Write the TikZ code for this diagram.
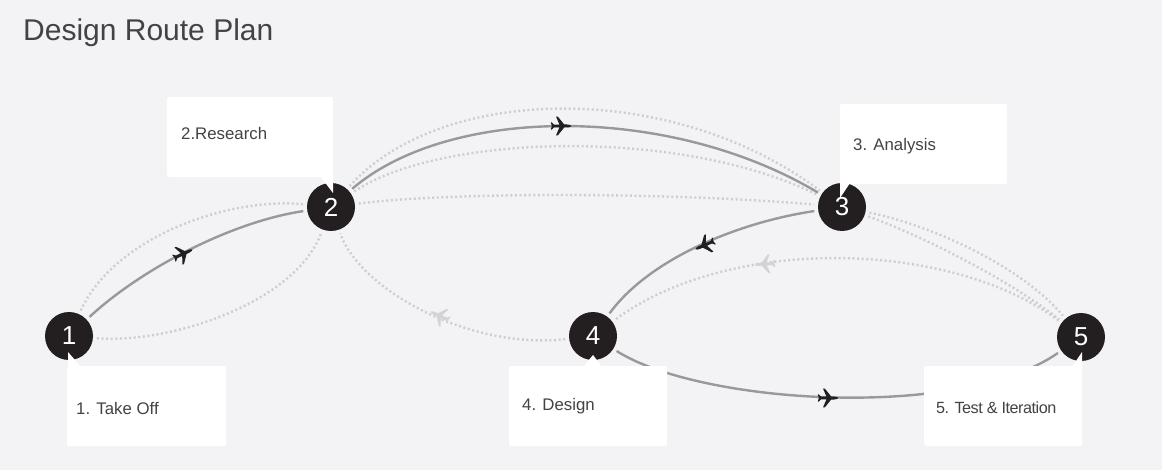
\documentclass[tikz,border=0pt]{standalone}
\usepackage{fontspec}
\usepackage{xcolor}
\setmainfont{Liberation Sans}
\usetikzlibrary{positioning,calc}
\definecolor{bggray}{HTML}{F3F3F5}
\definecolor{stopblack}{HTML}{231F20}
\definecolor{routegray}{HTML}{98999B}
\definecolor{dotgray}{HTML}{CDCED0}
\definecolor{planegray}{HTML}{D2D3D5}
\definecolor{textgray}{HTML}{434345}
\tikzset{
  stopnode/.style={circle,fill=stopblack,text=white,minimum size=48pt,inner sep=0pt,outer sep=4pt,font=\fontsize{26}{30}\selectfont},
  boxnode/.style={fill=white,rounded corners=1.5pt,minimum height=80pt,inner sep=0pt},
  boxlab/.style={anchor=base west,inner sep=0pt,text=textgray,font=\fontsize{16.8}{20}\selectfont},
  routeflown/.style={routegray,line width=2.4pt},
  routeopt/.style={dotgray,line width=2.4pt,dash pattern=on 2pt off 2.6pt},
  planeicon/.pic={
    \fill[pic actions] (10.5,0) .. controls (10,0.9) and (8,1.5) .. (6,1.5) -- (3.2,1.5) -- (-3.2,9.4) -- (-5,9.4) -- (-1.6,1.5) -- (-7,1.4) -- (-9.2,3.6) -- (-10.2,3.6) -- (-9.2,0) -- (-10.2,-3.6) -- (-9.2,-3.6) -- (-7,-1.4) -- (-1.6,-1.5) -- (-5,-9.4) -- (-3.2,-9.4) -- (3.2,-1.5) -- (6,-1.5) .. controls (8,-1.5) and (10,-0.9) .. (10.5,0) -- cycle;
  }
}
\begin{document}
\begin{tikzpicture}[x=1pt,y=-1pt]
  \fill[bggray] (0,0) rectangle (1162,470);
  \useasboundingbox (0,0) rectangle (1162,470);
  \node[anchor=base west,inner sep=0pt,text=textgray,font=\fontsize{30}{36}\selectfont] (title) at (23,41) {Design Route Plan};
  \node[stopnode] (n1) at (69,336) {1};
  \node[stopnode] (n2) at (331,207) {2};
  \node[stopnode] (n3) at (842,207) {3};
  \node[stopnode] (n4) at (593,336) {4};
  \node[stopnode] (n5) at (1081,337) {5};
  \draw[routeopt] (n1) .. controls (115,236) and (230,197) .. (n2);
  \draw[routeopt] (n1) .. controls (170,344) and (295,303) .. (n2);
  \draw[routeopt] (n2) .. controls (440,85) and (670,79) .. (n3);
  \draw[routeopt] (n2) .. controls (440,134) and (680,127) .. (n3);
  \draw[routeopt] (n2) .. controls (450,192) and (670,192) .. (n3);
  \draw[routeopt] (n3) .. controls (930,225) and (1020,265) .. (n5);
  \draw[routeopt] (n3) .. controls (920,235) and (1010,280) .. (n5);
  \draw[routeopt] (n5) .. controls (950,240) and (730,235) .. (n4);
  \draw[routeopt] (n4) .. controls (470,350) and (360,290) .. (n2);
  \draw[routeflown] (n1) .. controls (140,270) and (230,222) .. (n2);
  \draw[routeflown] (n2) .. controls (450,105) and (670,104) .. (n3);
  \draw[routeflown] (n3) .. controls (740,222) and (650,258) .. (n4);
  \draw[routeflown] (n4) .. controls (700,404) and (960,421) .. (n5);
  \pic[fill=stopblack,rotate=25] (plane1) at (183,254) {planeicon};
  \pic[fill=stopblack] (plane2) at (561,126) {planeicon};
  \pic[fill=stopblack,rotate=204] (plane3) at (705,245) {planeicon};
  \pic[fill=stopblack] (plane6) at (828,398) {planeicon};
  \pic[fill=planegray,rotate=183] (plane4) at (765,264) {planeicon};
  \pic[fill=planegray,rotate=155] (plane5) at (440,316) {planeicon};
  \node[boxnode,minimum width=159pt] (box1) at (146.5,406) {};
  \node[boxnode,minimum width=166pt] (box2) at (250,137) {};
  \node[boxnode,minimum width=167pt] (box3) at (923.5,144) {};
  \node[boxnode,minimum width=158pt] (box4) at (588,406) {};
  \node[boxnode,minimum width=158pt] (box5) at (1003,406) {};
  \fill[white] (68,352) -- (68,367) -- (81,367) -- cycle;
  \fill[white] (333,193) -- (333,176) -- (320,176) -- cycle;
  \fill[white] (840,198) -- (840,183) -- (850,183) -- cycle;
  \fill[white] (593,355) -- (583,367) -- (602,367) -- cycle;
  \fill[white] (1082,352) -- (1082,367) -- (1072,367) -- cycle;
  \node[boxlab] (lab1) at (76,414) {1. Take Off};
  \node[boxlab] (lab2) at (181,140) {2.Research};
  \node[boxlab] (lab3) at (853,151) {3. Analysis};
  \node[boxlab] (lab4) at (522,410) {4. Design};
  \node[boxlab,font=\fontsize{16.2}{20}\selectfont\addfontfeature{LetterSpace=-3}] (lab5) at (936,413) {5. Test \& Iteration};
\end{tikzpicture}
\end{document}
